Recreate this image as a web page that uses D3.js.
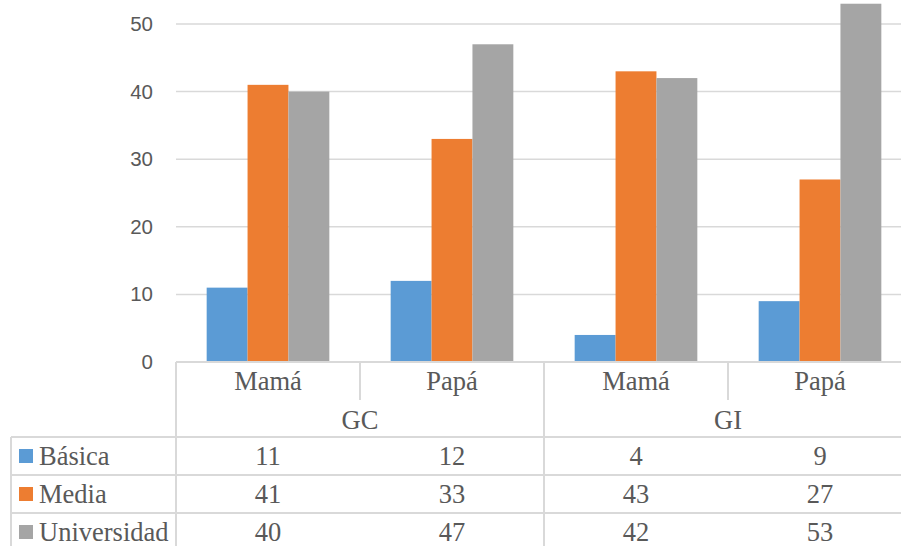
<!DOCTYPE html>
<html>
<head>
<meta charset="utf-8">
<script src="https://cdn.jsdelivr.net/npm/d3@7"></script>
<style>
  html, body { margin: 0; padding: 0; background: #fff; }
  svg { display: block; }
</style>
</head>
<body>
<svg id="chart" width="901" height="546"></svg>
<script>
// Categories (two-level: group → parent)
const categories = ["GC-Mamá", "GC-Papá", "GI-Mamá", "GI-Papá"];
const catLabels = ["Mamá", "Papá", "Mamá", "Papá"];
const groups = ["GC", "GI"];
const seriesNames = ["Básica", "Media", "Universidad"];
const basica = [11, 12, 4, 9];
const media = [41, 33, 43, 27];
const universidad = [40, 47, 42, 53];
const seriesColors = ["#5b9bd5", "#ed7d31", "#a5a5a5"];
const yTicks = [0, 10, 20, 30, 40, 50];

const seriesValues = [basica, media, universidad];

const svg = d3.select("#chart");
const W = 901, H = 546;

// Plot geometry
const plotLeft = 176, plotRight = 912;
const yZero = 362, pxPerUnit = 6.76;

const x0 = d3.scaleBand().domain(categories).range([plotLeft, plotRight]).paddingInner(0).paddingOuter(0);
const x1 = d3.scaleBand().domain(seriesNames).range([0, x0.bandwidth()]).paddingInner(0).paddingOuter(0.75);
const y = d3.scaleLinear().domain([0, 60]).range([yZero, yZero - 60 * pxPerUnit]);

const gridColor = "#d9d9d9";
const textColor = "#595959";

// Gridlines
svg.append("g")
  .selectAll("line")
  .data(yTicks.filter(t => t > 0))
  .join("line")
  .attr("x1", plotLeft).attr("x2", W)
  .attr("y1", d => y(d)).attr("y2", d => y(d))
  .attr("stroke", gridColor).attr("stroke-width", 1.5);

// Y axis labels
const yAxis = d3.axisLeft(y).tickValues(yTicks).tickSize(0).tickPadding(0).tickFormat(d3.format("d"));
const yg = svg.append("g").attr("transform", "translate(153,0)").call(yAxis);
yg.select(".domain").remove();
yg.selectAll("text")
  .attr("fill", textColor)
  .style("font-family", "'Liberation Sans', Arial, sans-serif")
  .style("font-size", "20.5px");

// Bars
const barG = svg.append("g");
seriesNames.forEach((s, si) => {
  barG.append("g")
    .selectAll("rect")
    .data(categories.map((c, ci) => ({ c, v: seriesValues[si][ci] })))
    .join("rect")
    .attr("x", d => x0(d.c) + x1(s))
    .attr("y", d => y(d.v))
    .attr("width", x1.bandwidth())
    .attr("height", d => yZero - y(d.v))
    .attr("fill", seriesColors[si]);
});

// Data table
const tbl = svg.append("g");
const serif = "'Liberation Serif', 'Times New Roman', serif";
const fontSize = "26.5px";
const rowCatY = 381, rowGroupY = 420;
const tableTop = 437, rowH = 38;
const tableLeft = 11;

function hline(x1p, x2p, yp) {
  tbl.append("line").attr("x1", x1p).attr("x2", x2p).attr("y1", yp).attr("y2", yp)
    .attr("stroke", gridColor).attr("stroke-width", 2);
}
function vline(xp, y1p, y2p) {
  tbl.append("line").attr("x1", xp).attr("x2", xp).attr("y1", y1p).attr("y2", y2p)
    .attr("stroke", gridColor).attr("stroke-width", 2);
}

// Axis line / table top
hline(plotLeft, W, yZero);
// Category dividers
categories.forEach((c, i) => {
  const xp = x0(c);
  const isGroupEdge = i % 2 === 0;
  vline(xp, yZero, isGroupEdge ? H : 400);
});
vline(plotRight, yZero, H);
// Row lines
hline(tableLeft, W, tableTop);
for (let r = 1; r <= 3; r++) hline(tableLeft, W, tableTop + r * rowH);
vline(tableLeft, tableTop, H);

// Category labels
tbl.selectAll("text.cat")
  .data(categories)
  .join("text")
  .attr("class", "cat")
  .attr("x", d => x0(d) + x0.bandwidth() / 2)
  .attr("y", rowCatY)
  .attr("text-anchor", "middle")
  .attr("dominant-baseline", "central")
  .attr("fill", textColor)
  .style("font-family", serif)
  .style("font-size", fontSize)
  .text((d, i) => catLabels[i]);

// Group labels
tbl.selectAll("text.grp")
  .data(groups)
  .join("text")
  .attr("class", "grp")
  .attr("x", (d, i) => x0(categories[i * 2]) + x0.bandwidth())
  .attr("y", rowGroupY)
  .attr("text-anchor", "middle")
  .attr("dominant-baseline", "central")
  .attr("fill", textColor)
  .style("font-family", serif)
  .style("font-size", fontSize)
  .text(d => d);

// Series rows
seriesNames.forEach((s, si) => {
  const cy = tableTop + si * rowH + rowH / 2;
  tbl.append("rect")
    .attr("x", 19).attr("y", cy - 7)
    .attr("width", 14).attr("height", 14)
    .attr("fill", seriesColors[si]);
  tbl.append("text")
    .attr("x", 39).attr("y", cy)
    .attr("dominant-baseline", "central")
    .attr("fill", textColor)
    .style("font-family", serif)
    .style("font-size", fontSize)
    .text(s);
  categories.forEach((c, ci) => {
    tbl.append("text")
      .attr("x", x0(c) + x0.bandwidth() / 2)
      .attr("y", cy)
      .attr("text-anchor", "middle")
      .attr("dominant-baseline", "central")
      .attr("fill", textColor)
      .style("font-family", serif)
      .style("font-size", fontSize)
      .text(seriesValues[si][ci]);
  });
});
</script>
</body>
</html>
